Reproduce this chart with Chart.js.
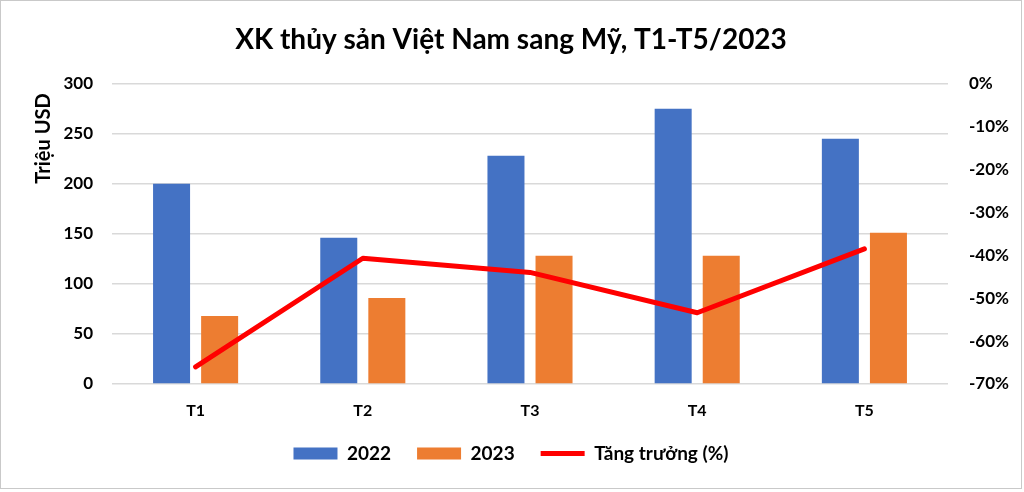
<!DOCTYPE html>
<html lang="vi">
<head>
    <meta charset="UTF-8">
    <title>XK thủy sản Việt Nam sang Mỹ</title>
    <script src="https://cdn.jsdelivr.net/npm/chart.js"></script>
    <style>
        html, body {
            margin: 0;
            padding: 0;
            background: #ffffff;
        }
        .chart-box {
            position: absolute;
            left: 0;
            top: 0;
            width: 1020px;
            height: 487px;
            border: 1px solid #c9c9c9;
        }
    </style>
</head>
<body>
<div class="chart-box">
    <canvas id="exportChart"></canvas>
</div>
<script>
    // data
    const months = ['T1', 'T2', 'T3', 'T4', 'T5'];
    const values2022 = [200, 146, 228, 275, 245];
    const values2023 = [68, 86, 128, 128, 151];
    const growthPct = [-66, -40.7, -44, -53.4, -38.5];
    const leftTicks = [0, 50, 100, 150, 200, 250, 300];
    const rightTicks = [-70, -60, -50, -40, -30, -20, -10, 0];

    const FONT = 'Lato, "Open Sans", sans-serif';

    new Chart(document.getElementById('exportChart'), {
        data: {
            labels: months,
            datasets: [
                {
                    type: 'line',
                    label: 'Tăng trưởng (%)',
                    data: growthPct,
                    yAxisID: 'y1',
                    borderColor: '#ff0000',
                    backgroundColor: '#ff0000',
                    borderWidth: 5,
                    borderCapStyle: 'round',
                    borderJoinStyle: 'round',
                    pointRadius: 0,
                    tension: 0,
                    order: 0
                },
                {
                    type: 'bar',
                    label: '2022',
                    data: values2022,
                    yAxisID: 'y',
                    backgroundColor: '#4472c4',
                    categoryPercentage: 0.575,
                    barPercentage: 0.77,
                    order: 1
                },
                {
                    type: 'bar',
                    label: '2023',
                    data: values2023,
                    yAxisID: 'y',
                    backgroundColor: '#ed7d31',
                    categoryPercentage: 0.575,
                    barPercentage: 0.77,
                    order: 1
                }
            ]
        },
        options: {
            responsive: true,
            maintainAspectRatio: false,
            animation: false,
            layout: { padding: { left: 0, right: 0, top: 0, bottom: 15 } },
            plugins: {
                title: {
                    display: true,
                    text: 'XK thủy sản Việt Nam sang Mỹ, T1-T5/2023',
                    color: '#000',
                    font: { family: FONT, size: 28, weight: 'bold' },
                    padding: { top: 22, bottom: 27 }
                },
                legend: {
                    position: 'bottom',
                    labels: {
                        color: '#000',
                        font: { family: FONT, size: 19, weight: 'bold' },
                        usePointStyle: true,
                        pointStyleWidth: 44,
                        boxHeight: 12,
                        padding: 26,
                        sort: (a, b) => a.datasetIndex === 0 ? 1 : (b.datasetIndex === 0 ? -1 : a.datasetIndex - b.datasetIndex),
                        generateLabels: function(chart) {
                            const items = Chart.defaults.plugins.legend.labels.generateLabels(chart);
                            items.forEach(item => {
                                if (item.datasetIndex === 0) {
                                    item.pointStyle = 'line';
                                    item.lineWidth = 5;
                                    item.strokeStyle = '#ff0000';
                                } else {
                                    item.pointStyle = 'rect';
                                    item.lineWidth = 0;
                                }
                            });
                            return items;
                        }
                    }
                },
                tooltip: { enabled: false }
            },
            scales: {
                x: {
                    grid: { display: false, drawTicks: false },
                    border: { display: false },
                    ticks: {
                        color: '#000',
                        font: { family: FONT, size: 16, weight: 'bold' },
                        padding: 17
                    },
                    afterFit: scale => { scale.height = 34; }
                },
                y: {
                    position: 'left',
                    min: 0,
                    max: 300,
                    afterBuildTicks: scale => { scale.ticks = leftTicks.map(v => ({ value: v })); },
                    grid: { color: '#d9d9d9', lineWidth: 1.5, drawTicks: false },
                    border: { display: false },
                    ticks: {
                        color: '#000',
                        font: { family: FONT, size: 17, weight: 'bold' },
                        padding: 19
                    },
                    title: {
                        display: true,
                        text: 'Triệu USD  ',
                        align: 'end',
                        color: '#000',
                        font: { family: FONT, size: 20, weight: 'bold' },
                        padding: { top: 31, bottom: 0 }
                    },
                    afterFit: scale => { scale.width = 111; }
                },
                y1: {
                    position: 'right',
                    min: -70,
                    max: 0,
                    afterBuildTicks: scale => { scale.ticks = rightTicks.map(v => ({ value: v })); },
                    grid: { display: false, drawTicks: false },
                    border: { display: false },
                    ticks: {
                        color: '#000',
                        font: { family: FONT, size: 17, weight: 'bold' },
                        padding: 21,
                        crossAlign: 'near',
                        callback: v => v + '%'
                    },
                    afterFit: scale => { scale.width = 73; }
                }
            }
        }
    });
</script>
</body>
</html>
